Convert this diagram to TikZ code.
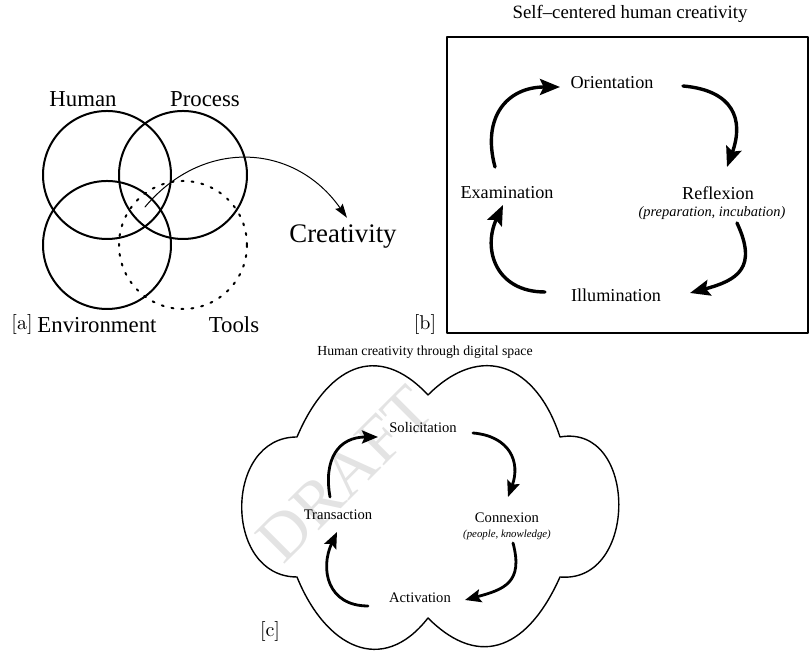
\documentclass[tikz,border=0pt]{standalone}
\usepackage{fontspec}
\newfontfamily\timesfont{Liberation Serif}
\usepackage{tikz}
\usetikzlibrary{arrows.meta,calc}

\begin{document}
\begin{tikzpicture}[x=0.5pt, y=0.5pt, line cap=round, line join=round,
  conjunto/.style={line width=1pt},
  etiqueta/.style={font=\timesfont\fontsize{11.4}{13}\selectfont, inner sep=0pt},
  fase/.style={font=\timesfont\fontsize{9.1}{11}\selectfont, inner sep=0pt},
  detalle/.style={font=\timesfont\itshape\fontsize{7.2}{9}\selectfont, inner sep=0pt},
  paso/.style={font=\timesfont\fontsize{7.3}{9}\selectfont, inner sep=0pt},
  nota/.style={font=\timesfont\itshape\fontsize{5.4}{7}\selectfont, inner sep=0pt},
  ciclo/.style={line width=1.7pt, -{Stealth[length=10pt,width=8pt,inset=1.8pt]}},
  ciclochico/.style={line width=1.4pt, -{Stealth[length=8pt,width=6.5pt,inset=1.4pt]}}]
  \useasboundingbox (0,0) rectangle (811,662);

  % (a) Conjuntos
  \coordinate (hum) at (107,487);
  \coordinate (pro) at (183,487);
  \coordinate (amb) at (107,417);
  \coordinate (her) at (183,417);
  \draw[conjunto] (hum) circle (64);
  \draw[conjunto] (pro) circle (64);
  \draw[conjunto] (amb) circle (64);
  \draw[conjunto, dash pattern=on 1pt off 4pt] (her) circle (64);

  \node[etiqueta] (human) at (83,563) {Human};
  \node[etiqueta] (process) at (205,563) {Process};
  \node[etiqueta] (env) at (97,337) {Environment};
  \node[etiqueta] (tools) at (234,337) {Tools};
  \node (la) at (22,337) {[a]};
  \node[font=\timesfont\fontsize{13.4}{15}\selectfont, inner sep=2pt] (creat) at (343,425) {Creativity};

  % Flecha hacia la creatividad
  \coordinate (nucleo) at (145,455);
  \draw[line width=0.5pt, -{Stealth[length=7pt,width=4.5pt,inset=1pt]}]
    (nucleo) to[out=50,in=125,looseness=1.15] ($(creat.north)+(4,3)$);

  % (b) Ciclo centrado en el humano
  \draw[line width=1.1pt] (447,329) rectangle (808,625);
  \node[font=\timesfont\fontsize{9.4}{11}\selectfont] (tit1) at (630,648) {Self\textendash centered human creativity};
  \node[fase] (orient) at (612,579) {Orientation};
  \node[fase] (exam) at (507,469) {Examination};
  \node[fase] (refl) at (718,469) {Reflexion};
  \node[detalle] (prep) at (712,449) {(preparation, incubation)};
  \node[fase] (illum) at (616,367) {Illumination};
  \node (lb) at (425,337) {[b]};

  \draw[ciclo] ($(exam)+(-12,26)$) to[out=105,in=180,looseness=1.3] ($(orient)+(-52,-4)$);
  \draw[ciclo] ($(orient)+(71,-3)$) to[out=-5,in=70,looseness=1.4] ($(refl)+(9,26)$);
  \draw[ciclo] ($(prep)+(25,-10)$) to[out=-65,in=15,looseness=1.5] ($(illum)+(74,2)$);
  \draw[ciclo] ($(illum)+(-71,3)$) to[out=180,in=-115,looseness=1.3] ($(exam)+(-4,-12)$);

  % (c) Espacio digital
  \node[font=\timesfont\fontsize{6.9}{8}\selectfont] (tit2) at (425,310) {Human creativity through digital space};
  \node[font=\timesfont\fontsize{33}{33}\selectfont, text=gray!22, rotate=45] (marca) at (345,188) {DRAFT};

  % Nube
  \coordinate (n1) at (297,225);
  \coordinate (n2) at (428,267);
  \coordinate (n3) at (560,225);
  \coordinate (n4) at (560,85);
  \coordinate (n5) at (428,44);
  \coordinate (n6) at (297,85);
  \draw[line width=0.7pt] (n1) to[out=67,in=133,looseness=1.4] (n2)
    to[out=45,in=108,looseness=1.4] (n3)
    to[out=10,in=-5,looseness=1.45] (n4)
    to[out=246,in=-45,looseness=1.4] (n5)
    to[out=232,in=-68,looseness=1.4] (n6)
    to[out=180,in=180,looseness=1.35] (n1);

  \node[paso] (sol) at (423,234) {Solicitation};
  \node[paso] (trans) at (338,147) {Transaction};
  \node[paso] (conn) at (507,144) {Connexion};
  \node[nota] (peop) at (507,127) {(people, knowledge)};
  \node[paso] (act) at (420,64) {Activation};
  \node (lc) at (270,30) {[c]};

  \draw[ciclochico] ($(trans)+(-8,18)$) to[out=100,in=180,looseness=1.3] ($(sol)+(-45,-9)$);
  \draw[ciclochico] ($(sol)+(50,-5)$) to[out=-5,in=70,looseness=1.3] ($(conn)+(1,21)$);
  \draw[ciclochico] ($(peop)+(6,-8)$) to[out=-75,in=15,looseness=1.4] ($(act)+(45,-2)$);
  \draw[ciclochico] ($(act)+(-52,-8)$) to[out=180,in=-115,looseness=1.3] ($(trans)+(-1,-17)$);
\end{tikzpicture}
\end{document}
